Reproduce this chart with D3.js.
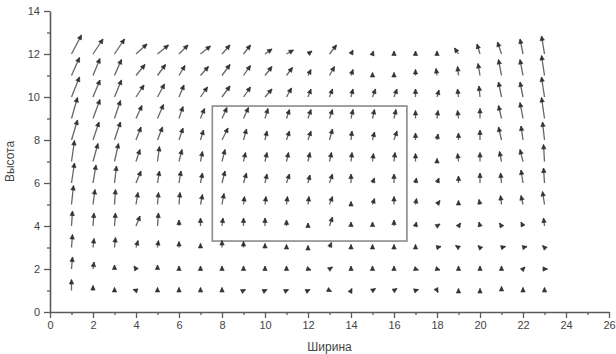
<!DOCTYPE html>
<html>
<head>
<meta charset="utf-8">
<script src="https://cdn.jsdelivr.net/npm/d3@7"></script>
<style>
  body { margin: 0; background: #fff; }
  svg { display: block; font-family: "Liberation Sans", Arial, sans-serif; }
</style>
</head>
<body>
<div id="chart"></div>
<script>
// grid of the field
const gridX = [1,2,3,4,5,6,7,8,9,10,11,12,13,14,15,16,17,18,19,20,21,22,23];
const gridY = [12,11,10,9,8,7,6,5,4,3,2,1];

// horizontal components, one row per gridY value (top row first)
const fieldU = [
  [10,10,10,11,11,9,10, 8,7,7,7,4,7,2, 1,0,0,0,-4,-3,-4,-3,-3],
  [8,7,7,9,8,6,8, 8,7,7,6,3,5,2, 0,0,0,-1,-1,-2,-3,-3,-3],
  [8,7,7,8,7,5,7, 8,7,7,5,3,3,2, 3,3,0,2,-1,-1,-3,-3,-3],
  [6,7,6,6,6,4,4, 5,5,3,3,3,3,2, 2,2,0,1,-1,0,-3,-3,-3],
  [6,6,6,5,5,4,3, 6,3,2,3,3,3,1, 2,3,0,1,0,0,-3,-2,-2],
  [3,5,4,4,2,3,2, 3,2,2,2,2,2,1, 1,1,0,0,-1,0,-2,-3,-1],
  [3,3,2,5,2,2,2, 3,3,2,3,2,3,0, 2,0,1,2,0,0,-1,-2,-1],
  [2,2,1,2,1,1,2, 2,1,1,1,1,3,0, 2,0,1,3,0,-1,-1,-2,-2],
  [1,1,1,4,1,0,0, 1,0,0,0,0,3,0, 0,0,1,3,2,-1,-2,-2,-1],
  [1,1,1,2,1,0,0, 0,0,0,0,0,2,0, 0,0,0,4,-3,-2,4,4,-2],
  [1,1,0,-2,0,0,0, 0,0,0,0,3,3,0, 0,0,3,3,0,0,0,2,3],
  [0,0,0,-3,0,0,0, 0,2,2,2,2,2,1, 3,3,3,1,0,0,0,0,0]
];

// vertical components
const fieldV = [
  [19,15,15,10,9,9,8, 9,9,5,4,3,9,4, 3,3,3,3,6,10,12,15,18],
  [18,17,16,11,11,10,9, 11,10,9,8,6,9,6, 3,3,6,7,9,12,16,16,20],
  [20,17,17,12,13,12,10, 11,10,8,9,8,8,8, 8,8,8,7,8,11,15,15,20],
  [21,19,18,13,14,12,10, 11,11,10,9,9,9,9, 9,9,8,8,8,10,13,16,21],
  [20,18,18,13,13,12,10, 12,11,9,9,9,11,9, 8,9,7,6,7,10,13,14,18],
  [21,18,18,12,15,12,10, 12,9,9,9,9,9,9, 8,9,8,3,8,9,10,12,17],
  [20,18,17,12,12,12,10, 12,10,9,9,8,9,9, 5,9,5,5,7,10,10,13,15],
  [19,15,15,12,12,12,10, 11,8,8,8,8,8,3, 6,8,6,4,4,5,9,9,13],
  [15,13,13,10,13,6,8, 8,8,8,6,3,9,4, 4,6,4,2,3,4,3,4,8],
  [13,9,10,7,7,6,4, 7,6,4,3,2,5,3, 3,3,3,1,2,2,1,1,2],
  [12,7,4,3,4,3,3, 3,3,3,3,-1,2,3, 3,3,-1,-1,3,3,3,2,0],
  [11,5,3,1,3,3,3, 3,1,1,1,1,-1,2, 2,2,1,-2,2,2,4,3,3]
];

// highlighted zone [x0, x1, y0, y1]
const zone = [7.55, 16.6, 3.3, 9.58];

const xMajor = [0,2,4,6,8,10,12,14,16,18,20,22,24,26];
const xMinor = [1,3,5,7,9,11,13,15,17,19,21,23,25];
const yMajor = [0,2,4,6,8,10,12,14];
const yMinor = [1,3,5,7,9,11,13];

const W = 616, H = 354;
const svg = d3.select('#chart').append('svg')
  .attr('width', W).attr('height', H);

// soft edges like the scanned original
svg.append('defs').append('filter').attr('id', 'soft')
  .append('feGaussianBlur').attr('stdDeviation', 0.35);

const x = d3.scaleLinear().domain([0, 26]).range([50, 609]);
const y = d3.scaleLinear().domain([0, 14]).range([312, 11]);

// field units -> data units
const k = 1 / 21.5;

const axisColor = '#5a5a5a';

function styleAxis(g) {
  g.select('.domain').attr('stroke', axisColor).attr('stroke-width', 1.6);
  g.selectAll('.tick line').attr('stroke', axisColor).attr('stroke-width', 1.3);
  g.selectAll('.tick text').attr('fill', '#444').style('font-size', '11px');
}

// x axis
svg.append('g').attr('transform', `translate(0,${y(0)})`)
  .call(d3.axisBottom(x).tickValues(xMinor).tickSize(3).tickFormat(''))
  .call(g => g.select('.domain').remove())
  .call(styleAxis);
svg.append('g').attr('transform', `translate(0,${y(0)})`)
  .call(d3.axisBottom(x).tickValues(xMajor).tickSize(6).tickSizeOuter(0).tickPadding(3))
  .call(styleAxis);

// y axis
svg.append('g').attr('transform', `translate(${x(0)},0)`)
  .call(d3.axisLeft(y).tickValues(yMinor).tickSize(3).tickFormat(''))
  .call(g => g.select('.domain').remove())
  .call(styleAxis);
svg.append('g').attr('transform', `translate(${x(0)},0)`)
  .call(d3.axisLeft(y).tickValues(yMajor).tickSize(6).tickSizeOuter(0).tickPadding(4))
  .call(styleAxis);

// axis titles
svg.append('text')
  .attr('x', (x(0) + x(26)) / 2).attr('y', 351)
  .attr('text-anchor', 'middle').attr('fill', '#444')
  .style('font-size', '12px').text('Ширина');
svg.append('text')
  .attr('transform', `translate(14,${(y(0) + y(14)) / 2}) rotate(-90)`)
  .attr('text-anchor', 'middle').attr('fill', '#444')
  .style('font-size', '12px').text('Высота');

// zone rectangle
svg.append('rect')
  .attr('x', x(zone[0])).attr('y', y(zone[3]))
  .attr('width', x(zone[1]) - x(zone[0]))
  .attr('height', y(zone[2]) - y(zone[3]))
  .attr('fill', 'none').attr('stroke', '#8a8a8a').attr('stroke-width', 1.6);

// arrows
const arrows = [];
gridY.forEach((gy, r) => {
  gridX.forEach((gx, c) => {
    arrows.push({ x: gx, y: gy, u: fieldU[r][c], v: fieldV[r][c] });
  });
});

const ag = svg.append('g').attr('filter', 'url(#soft)');
arrows.forEach(d => {
  const x1 = x(d.x), y1 = y(d.y);
  const x2 = x(d.x + d.u * k), y2 = y(d.y + d.v * k);
  const dx = x2 - x1, dy = y2 - y1;
  const len = Math.hypot(dx, dy) || 1;
  const ux = dx / len, uy = dy / len;
  const hl = 4.5, hw = 2.2;
  const bx = x2 - ux * hl, by = y2 - uy * hl;
  ag.append('line')
    .attr('x1', x1).attr('y1', y1).attr('x2', x2).attr('y2', y2)
    .attr('stroke', '#666').attr('stroke-width', 1.3);
  ag.append('path')
    .attr('d', `M${x2},${y2}L${bx - uy * hw},${by + ux * hw}L${bx + uy * hw},${by - ux * hw}Z`)
    .attr('fill', '#333').attr('stroke', '#333').attr('stroke-width', 0.6)
    .attr('stroke-linejoin', 'round');
});
</script>
</body>
</html>
